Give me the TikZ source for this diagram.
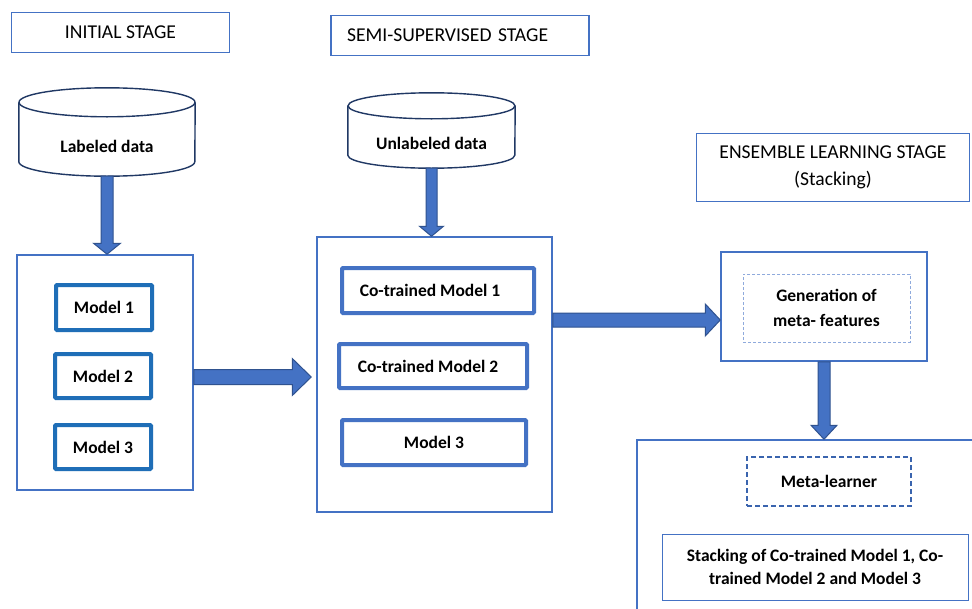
\documentclass[tikz,border=0pt]{standalone}
\usepackage{fontspec}
\setmainfont{Carlito}
\usetikzlibrary{calc}
\definecolor{obl}{HTML}{4472C4}
\definecolor{mbl}{HTML}{1F6EB7}
\definecolor{adk}{HTML}{2F528F}
\definecolor{navy}{HTML}{203864}
\definecolor{lbl}{HTML}{8FAADC}
\definecolor{dbl}{HTML}{3A64AE}
\tikzset{
  stagebox/.style={draw=obl, line width=1.8pt, inner sep=0pt, align=center,
    font=\fontsize{19.6}{27}\selectfont},
  container/.style={draw=obl, line width=1.5pt, inner sep=0pt},
  boldlabel/.style={font=\fontsize{17.5}{25}\selectfont\bfseries, inner sep=0pt, align=center},
  modelbox/.style={boldlabel, draw=mbl, line width=4pt, rounded corners=1pt},
  cobox/.style={modelbox, draw=obl},
  cyl/.style={draw=navy, line width=1.4pt},
  blk/.style={fill=obl, draw=adk, line width=1pt, line join=miter},
  thindash/.style={boldlabel, draw=lbl, line width=1pt, dash pattern=on 3pt off 2pt},
  thickdash/.style={boldlabel, draw=dbl, line width=1.8pt, dash pattern=on 5pt off 3pt},
  thinbox/.style={boldlabel, draw=obl, line width=1pt, font=\fontsize{17.5}{22.5}\selectfont\bfseries},
}
% vertical block arrow: start, tip, shaft half width, head half width, head length
\newcommand\vblock[5]{%
  \draw[blk] let \p1=(#1), \p2=(#2) in
    (\x1-#3pt,\y1) -- (\x1-#3pt,\y2+#5pt) -- (\x1-#4pt,\y2+#5pt) -- (\x1,\y2)
    -- (\x1+#4pt,\y2+#5pt) -- (\x1+#3pt,\y2+#5pt) -- (\x1+#3pt,\y1) -- cycle;}
% horizontal block arrow
\newcommand\hblock[5]{%
  \draw[blk] let \p1=(#1), \p2=(#2) in
    (\x1,\y1+#3pt) -- (\x2-#5pt,\y1+#3pt) -- (\x2-#5pt,\y1+#4pt) -- (\x2,\y1)
    -- (\x2-#5pt,\y1-#4pt) -- (\x2-#5pt,\y1-#3pt) -- (\x1,\y1-#3pt) -- cycle;}
% cylinder outline around a node: node, y radius, x radius
\newcommand\cylshape[3]{%
  \draw[cyl] ([yshift=#2]#1.north west) -- ([yshift=#2]#1.south west)
    arc[start angle=180, end angle=360, x radius=#3, y radius=#2]
    -- ([yshift=#2]#1.north east);
  \draw[cyl] ([yshift=#2]#1.north) ellipse[x radius=#3, y radius=#2];}
\begin{document}
\begin{tikzpicture}[x=1pt,y=-1pt]
\clip (0,0) rectangle (972,608);
\fill[white] (0,0) rectangle (972,608);

% stage titles
\node[stagebox, minimum width=218pt, minimum height=40pt] (t1) at (120.5,32.5) {INITIAL STAGE};
\node[stagebox, text width=226pt, align=left, inner xsep=16pt, minimum height=40pt] (t2) at (460,35.5) {SEMI-SUPERVISED STAGE};
\node[stagebox, minimum width=273pt, minimum height=68pt] (t3) at (833,167.5) {ENSEMBLE LEARNING STAGE\\(Stacking)};

% data cylinders
\node[boldlabel, minimum width=176pt, minimum height=59pt] (lab) at (107,146.5) {Labeled data};
\cylshape{lab}{14.5pt}{88pt}
\node[boldlabel, minimum width=167pt, minimum height=49pt] (unl) at (431.5,143.5) {Unlabeled data};
\cylshape{unl}{13pt}{83.5pt}

% containers
\node[container, minimum width=176pt, minimum height=235pt] (initbox) at (105,372.5) {};
\node[container, minimum width=235pt, minimum height=275pt] (semibox) at (434.5,374.5) {};
\node[container, minimum width=206pt, minimum height=109pt] (genbox) at (824,306.5) {};
\node[container, minimum width=353pt, minimum height=190pt] (finalbox) at (813.5,535) {};

% initial models
\node[modelbox, minimum width=96pt, minimum height=45pt] (m1) at (104,307.5) {Model 1};
\node[modelbox, minimum width=96pt, minimum height=44pt] (m2) at (103,376) {Model 2};
\node[modelbox, minimum width=96pt, minimum height=44pt] (m3) at (103,447) {Model 3};

% co-trained models
\node[cobox, minimum width=192pt, minimum height=45pt] (c1) at (438,290.5) {Co-trained Model 1\hspace{16pt}};
\node[cobox, minimum width=188pt, minimum height=44pt] (c2) at (433,366) {Co-trained Model 2\hspace{10pt}};
\node[cobox, minimum width=184pt, minimum height=45pt] (c3) at (434,442.5) {Model 3};

% ensemble stage
\node[thindash, minimum width=167pt, minimum height=68pt] (genin) at (826.5,308) {Generation of\\meta- features};
\node[thickdash, minimum width=164pt, minimum height=49pt] (meta) at (829,481.5) {Meta-learner};
\node[thinbox, minimum width=306pt, minimum height=66pt] (stack) at (815,567) {Stacking of Co-trained Model 1, Co-\\trained Model 2 and Model 3};

% block arrows
\vblock{lab.south}{initbox.north}{6}{13.5}{11}
\vblock{unl.south}{semibox.north}{5.5}{12}{10}
\vblock{genbox.south}{finalbox.north}{6}{13}{14}
\hblock{[yshift=-4.5pt]initbox.east}{[xshift=-5pt]semibox.west}{7.5}{18.5}{19}
\hblock{[yshift=54.5pt]semibox.east}{genbox.west}{7}{16}{15}
\end{tikzpicture}
\end{document}
